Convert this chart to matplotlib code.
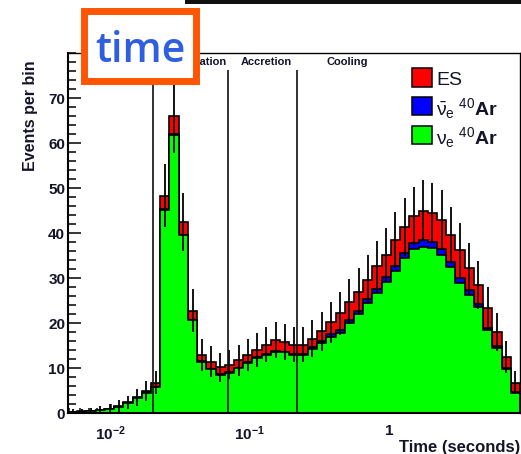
import numpy as np
import matplotlib
matplotlib.use("Agg")
import matplotlib.pyplot as plt
from matplotlib.patches import Rectangle
from matplotlib.ticker import FixedLocator, MultipleLocator, LogLocator, NullFormatter

plt.rcParams["font.family"] = ["Liberation Sans", "DejaVu Sans"]
plt.rcParams["mathtext.fontset"] = "custom"
plt.rcParams["mathtext.rm"] = "Liberation Sans"
plt.rcParams["mathtext.it"] = "Liberation Sans:italic"
plt.rcParams["mathtext.bf"] = "Liberation Sans:bold"

# ---- data -------------------------------------------------------------
# 49 logarithmic time bins (seconds)
log_t_min, log_t_max, n_bins = -2.306, 0.938, 49

nue_ar = [0.27, 0.36, 0.45, 0.63, 0.9, 1.45, 2.2, 3.3, 4.6, 5.9,
          45.2, 61.8, 39.6, 20.7, 11.5, 9.8, 8.6, 9.0, 10.0, 11.2,
          12.2, 13.0, 13.7, 13.5, 13.0, 13.0, 14.3, 15.6, 17.0, 17.9,
          20.0, 22.0, 24.4, 26.7, 29.2, 31.5, 34.4, 36.4, 37.0, 36.6,
          35.2, 32.4, 29.0, 26.3, 23.7, 18.5, 14.6, 9.8, 4.6]
nuebar_ar = [0.01, 0.01, 0.01, 0.01, 0.02, 0.02, 0.03, 0.03, 0.04, 0.05,
             0.1, 0.15, 0.1, 0.08, 0.08, 0.1, 0.1, 0.12, 0.15, 0.15,
             0.2, 0.2, 0.2, 0.2, 0.2, 0.25, 0.35, 0.4, 0.5, 0.6,
             0.7, 0.8, 0.9, 1.0, 1.1, 1.2, 1.3, 1.4, 1.4, 1.4,
             1.3, 1.2, 1.1, 1.0, 0.5, 0.4, 0.3, 0.2, 0.1]
es = [0.02, 0.03, 0.04, 0.06, 0.08, 0.13, 0.17, 0.27, 0.36, 0.85,
      3.0, 4.05, 2.8, 2.02, 1.42, 1.6, 1.5, 1.68, 1.65, 1.65,
      1.7, 2.0, 2.3, 2.2, 2.0, 1.95, 1.95, 2.2, 2.7, 3.7,
      4.1, 4.2, 4.3, 4.9, 4.9, 5.8, 5.6, 5.9, 6.6, 6.4,
      6.5, 6.0, 6.2, 4.9, 4.3, 4.4, 3.2, 2.6, 2.1]

phase_bounds = [0.0202, 0.0698, 0.2186]
phase_names = ["Neutronization", "Accretion", "Cooling"]
phase_label_x = [0.0681, 0.1318, 0.4995]

legend_labels = ["ES", r"$\bar{\mathrm{\nu}}_{\mathrm{e}}\;{}^{40}\mathbf{Ar}$",
                 r"$\mathrm{\nu}_{\mathrm{e}}\;{}^{40}\mathbf{Ar}$"]
colors = {"es": "#ff0000", "nuebar": "#0000ff", "nue": "#00ff00"}

# ---- figure -----------------------------------------------------------
W, H = 521, 454
fig = plt.figure(figsize=(W / 100, H / 100), dpi=100)
fig.patch.set_facecolor("white")


def fx(px):
    return px / W


def fy(py):
    return 1 - py / H


ax = fig.add_axes([fx(68), fy(413.3), fx(520) - fx(68), fy(53) - fy(413.3)])
ax.set_xscale("log")

edges = np.logspace(log_t_min, log_t_max, n_bins + 1)
green = np.array(nue_ar)
blue_top = green + np.array(nuebar_ar)
total = blue_top + np.array(es)

ink = "#14142a"
ax.stairs(total, edges, fill=True, facecolor=colors["es"], edgecolor="black",
          linewidth=1.2, baseline=0, zorder=2)
ax.stairs(blue_top, edges, fill=True, facecolor=colors["nuebar"], edgecolor="black",
          linewidth=1.2, baseline=0, zorder=3)
ax.stairs(green, edges, fill=True, facecolor=colors["nue"], edgecolor="black",
          linewidth=1.2, baseline=0, zorder=4)

centers = np.sqrt(edges[:-1] * edges[1:])
err = np.sqrt(total)
ax.vlines(centers, total - err, total + err, color="black", linewidth=1.3, zorder=5)

ax.vlines(phase_bounds, 0, 76.3, color="#111111", linewidth=1.2, zorder=6)
ha_list = ["right", "center", "center"]
for name, xpos, ha in zip(phase_names, phase_label_x, ha_list):
    ax.text(xpos, 78, name, ha=ha, va="center", fontsize=8, fontweight="bold",
            color=ink, zorder=7)

ax.set_xlim(edges[0], edges[-1])
ax.set_ylim(0, 80)

ax.yaxis.set_major_locator(FixedLocator(np.arange(0, 71, 10)))
ax.yaxis.set_minor_locator(MultipleLocator(2))
ax.xaxis.set_major_locator(FixedLocator([0.01, 0.1, 1]))
ax.xaxis.set_minor_locator(LogLocator(base=10, subs=np.arange(2, 10)))
ax.xaxis.set_minor_formatter(NullFormatter())
ax.set_xticklabels([r"$\mathbf{10^{-2}}$", r"$\mathbf{10^{-1}}$", r"$\mathbf{1}$"])
ax.set_yticklabels([str(v) for v in range(0, 71, 10)])

ax.tick_params(axis="y", which="major", direction="in", length=9.4, width=1.1,
               pad=2, labelsize=11, labelcolor=ink)
ax.tick_params(axis="y", which="minor", direction="in", length=5.5, width=1.1)
ax.tick_params(axis="x", which="major", direction="in", length=6.5, width=1.1,
               pad=8, labelsize=11, labelcolor=ink)
ax.tick_params(axis="x", which="minor", direction="in", length=3.3, width=1.1)
for lbl in ax.get_yticklabels():
    lbl.set_fontweight("bold")

for side, lw in [("left", 1.5), ("bottom", 1.5), ("top", 1.0), ("right", 1.0)]:
    ax.spines[side].set_linewidth(lw)
    ax.spines[side].set_color("black")
    ax.spines[side].set_zorder(8)

fig.text(fx(520), fy(440), "Time (seconds)", ha="right", va="top",
         fontsize=12, fontweight="bold", color=ink)
fig.text(fx(31), fy(116), "Events per bin", rotation=90, ha="center", va="center",
         fontsize=11.5, fontweight="bold", color=ink)

# legend boxes and entries
box_tops = [68.3, 96.7, 126.0]
baselines = [85, 115, 144]
fill_cols = [colors["es"], colors["nuebar"], colors["nue"]]
for top, base, col, lab in zip(box_tops, baselines, fill_cols, legend_labels):
    fig.patches.append(Rectangle((fx(412), fy(top + 18.4)), fx(20), fy(top) - fy(top + 18.4),
                                 transform=fig.transFigure, facecolor=col,
                                 edgecolor="black", linewidth=1.1, zorder=9))
    fig.text(fx(436), fy(base), lab, ha="left", va="baseline", fontsize=14,
             color=ink, zorder=9)

# dark strip along the top edge
fig.patches.append(Rectangle((fx(185), fy(4)), 1, fy(0) - fy(4), transform=fig.transFigure,
                             facecolor="#111111", edgecolor="none", zorder=10))

# highlighted "time" tag
fig.patches.append(Rectangle((fx(83.5), fy(80.5)), fx(112), fy(10.5) - fy(80.5),
                             transform=fig.transFigure, facecolor="white",
                             edgecolor="#ff5500", linewidth=5.0, zorder=10))
fig.text(fx(140), fy(61.7), "time", ha="center", va="baseline", fontsize=29.5,
         family="Open Sans", fontweight="semibold", color="#2f5fe0", zorder=11)

fig.savefig("out.png", dpi=100, facecolor="white")
